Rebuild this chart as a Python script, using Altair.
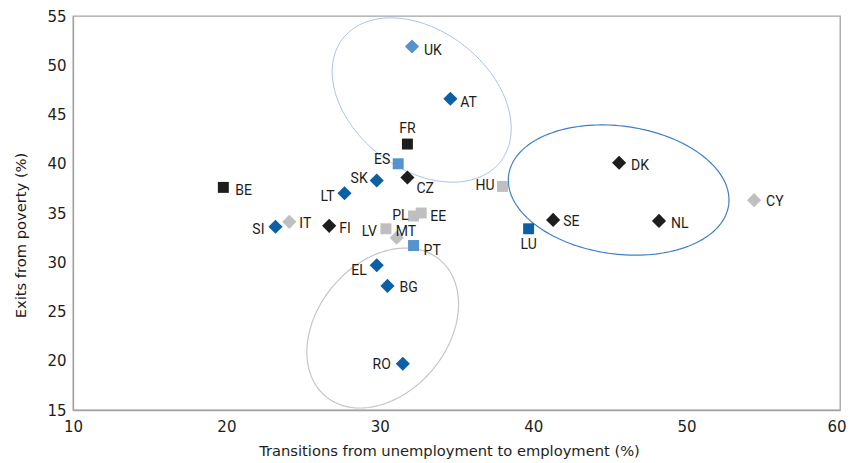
import altair as alt
import pandas as pd
import numpy as np

# ---- data ----
codes = ["UK", "AT", "FR", "ES", "CZ", "SK", "LT", "BE", "SI", "IT", "FI", "PL", "EE",
         "LV", "MT", "PT", "EL", "BG", "RO", "HU", "LU", "SE", "DK", "NL", "CY"]
transitions = [32.1, 34.6, 31.8, 31.2, 31.8, 29.8, 27.7, 19.8, 23.2, 24.1, 26.7, 32.2, 32.7,
               30.4, 31.1, 32.2, 29.8, 30.5, 31.5, 38.0, 39.7, 41.3, 45.6, 48.2, 54.4]
exits = [51.9, 46.6, 42.0, 40.0, 38.6, 38.3, 37.0, 37.6, 33.6, 34.1, 33.7, 34.7, 35.0,
         33.4, 32.5, 31.7, 29.7, 27.6, 19.7, 37.7, 33.4, 34.3, 40.1, 34.2, 36.3]
groups = ["light", "dark", "black", "light", "black", "dark", "dark", "black", "dark", "grey",
          "black", "grey", "grey", "grey", "grey", "light", "dark", "dark", "dark", "grey",
          "dark", "black", "black", "black", "grey"]
markers = ["diamond", "diamond", "square", "square", "diamond", "diamond", "diamond", "square",
           "diamond", "diamond", "diamond", "square", "square", "square", "diamond", "square",
           "diamond", "diamond", "diamond", "square", "square", "diamond", "diamond", "diamond",
           "diamond"]

x_ticks = [10, 20, 30, 40, 50, 60]
y_ticks = [15, 20, 25, 30, 35, 40, 45, 50, 55]

# ---- styling ----
W, H = 767, 394
X_DOM, Y_DOM = [10, 60], [15, 55]
PXX = W / (X_DOM[1] - X_DOM[0])
PXY = H / (Y_DOM[1] - Y_DOM[0])

group_domain = ["black", "dark", "light", "grey"]
group_colors = ["#1d1d1b", "#0b5fa5", "#5593cf", "#bfbfbf"]

# label placement: (align, dx, dy) in pixels
placement = {
    "UK": ("left", 12, 4), "AT": ("left", 10, 4), "FR": ("center", 0, -15),
    "ES": ("right", -8, -4), "CZ": ("left", 9, 11), "SK": ("right", -9, -1),
    "LT": ("right", -10, 4), "BE": ("left", 12, 4), "SI": ("right", -11, 3),
    "IT": ("left", 10, 2), "FI": ("left", 10, 3), "PL": ("right", -5, 0),
    "EE": ("left", 9, 4), "LV": ("right", -9, 3), "MT": ("left", -1, -6),
    "PT": ("left", 10, 5), "EL": ("right", -10, 6), "BG": ("left", 12, 2),
    "RO": ("right", -12, 1), "HU": ("right", -8, 0), "LU": ("center", 0, 16),
    "SE": ("left", 10, 2), "DK": ("left", 12, 3), "NL": ("left", 12, 3),
    "CY": ("left", 12, 2),
}

# ellipses: centre (data), semi-axes (px), rotation (deg, clockwise on screen), colour, width
ellipse_specs = [
    (32.73, 46.47, 100, 69, 38, "#a9c4e6", 1.0),
    (45.57, 37.33, 111, 64, 7.7, "#3f7fc6", 1.2),
    (30.19, 23.32, 89, 65, -50, "#c6c6c6", 1.2),
]

df = pd.DataFrame({"code": codes, "x": transitions, "y": exits,
                   "group": groups, "marker": markers})

x_scale = alt.Scale(domain=X_DOM, nice=False, zero=False)
y_scale = alt.Scale(domain=Y_DOM, nice=False, zero=False)

last_x = f"datum.value == {x_ticks[-1]}"
x_axis = alt.Axis(values=x_ticks, title="Transitions from unemployment to employment (%)",
                  grid=False, ticks=False, labelPadding=9, labelFlush=False,
                  labelAlign={"condition": {"test": last_x, "value": "right"}, "value": "center"},
                  labelOffset={"condition": {"test": last_x, "value": 6}, "value": 0},
                  titleY=33, titleX=376, titleBaseline="top")
y_axis = alt.Axis(values=y_ticks, title="Exits from poverty (%)", grid=False, ticks=False,
                  labelPadding=7, labelFlush=False, titleX=-45, titleY=219)

layers = []
t = np.linspace(0, 2 * np.pi, 181)
for i, (cx, cy, a, b, th, col, sw) in enumerate(ellipse_specs):
    r = np.deg2rad(th)
    px = a * np.cos(t) * np.cos(r) - b * np.sin(t) * np.sin(r)
    py = a * np.cos(t) * np.sin(r) + b * np.sin(t) * np.cos(r)
    edf = pd.DataFrame({"x": cx + px / PXX, "y": cy - py / PXY, "i": np.arange(len(t))})
    layers.append(
        alt.Chart(edf).mark_line(color=col, strokeWidth=sw, clip=False).encode(
            x=alt.X("x:Q", scale=x_scale, axis=x_axis),
            y=alt.Y("y:Q", scale=y_scale, axis=y_axis),
            order="i:Q",
        )
    )

for shape, size in (("square", 120), ("diamond", 200)):
    layers.append(
        alt.Chart(df).transform_filter(alt.datum.marker == shape)
        .mark_point(shape=shape, filled=True, opacity=1, size=size, strokeWidth=0)
        .encode(
            x=alt.X("x:Q", scale=x_scale, axis=x_axis),
            y=alt.Y("y:Q", scale=y_scale, axis=y_axis),
            color=alt.Color("group:N", scale=alt.Scale(domain=group_domain, range=group_colors),
                            legend=None),
        )
    )

for code in codes:
    al, dx, dy = placement[code]
    layers.append(
        alt.Chart(df).transform_filter(alt.datum.code == code)
        .mark_text(align=al, baseline="middle", dx=dx, dy=dy, fontSize=14,
                   font="Roboto", color="#1d1d1b")
        .encode(
            x=alt.X("x:Q", scale=x_scale, axis=x_axis),
            y=alt.Y("y:Q", scale=y_scale, axis=y_axis),
            text="code:N",
        )
    )

chart = alt.layer(*layers).properties(
    width=W, height=H,
    autosize=alt.AutoSizeParams(type="none"),
    padding={"left": 65, "top": 8, "right": 6, "bottom": 53},
).configure_view(stroke="#a3a3a3", strokeWidth=1.3).configure_axis(
    domainColor="#a3a3a3", domainWidth=1.3,
    labelFont="DejaVu Sans", labelFontSize=15, labelColor="#1d1d1b",
    titleFont="DejaVu Sans", titleFontSize=14.7, titleFontWeight="normal", titleColor="#1d1d1b",
)

chart.save("out.html", embed_options={"renderer": "svg", "actions": False})
